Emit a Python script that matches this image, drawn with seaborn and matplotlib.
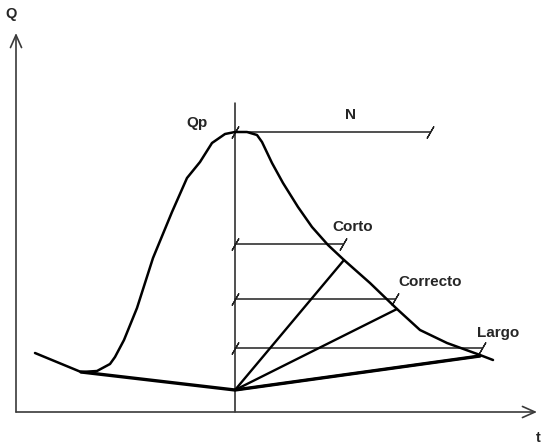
import matplotlib
matplotlib.use('Agg')
import matplotlib.pyplot as plt
import seaborn as sns
import pandas as pd

# hydrograph (t, Q in pixel-like units, origin at the axes corner)
curve_t = [19, 65, 81, 94, 99, 108, 121, 137, 156, 171, 184, 196, 209, 219, 231, 241,
           246, 256, 267, 282, 296, 312, 328, 354, 381, 404, 431, 464, 477]
curve_q = [59, 40, 41, 48, 55, 72, 104, 154, 200, 234, 250, 269, 278, 280, 280, 277,
           270, 249, 229, 205, 185, 167, 152, 129, 103, 82, 69, 57, 52]

# base flow separation
base_t = [65, 219, 464]
base_q = [40, 22, 56]

# peak time and recession durations
t_peak = 219
q_peak = 280
q_top_vertical = 309

labels = ['N', 'Corto', 'Correcto', 'Largo']
level_q = [280, 168, 113, 64]
level_end_t = [414, 327, 379, 466]

# end points of the separation rays
ray_names = ['Corto', 'Correcto', 'Largo']
ray_end_t = [328, 381, 464]
ray_end_q = [152, 103, 56]

label_t = [334, 337, 414, 482]
label_q = [297, 185, 130, 79]

sns.set_style('white')
plt.rcParams['font.family'] = ['Liberation Sans', 'DejaVu Sans']

fig = plt.figure(figsize=(5.42, 4.48), dpi=100)
ax = fig.add_axes([0, 0, 1, 1])
ax.set_xlim(-16, 526)
ax.set_ylim(-36, 412)
ax.axis('off')

# axes with open arrow heads
axis_col = '#3a3a3a'
ax.annotate('', xy=(0, 379), xytext=(0, 0),
            arrowprops=dict(arrowstyle='->,head_length=0.9,head_width=0.4', color=axis_col, lw=1.2, shrinkA=0, shrinkB=0))
ax.annotate('', xy=(521, 0), xytext=(0, 0),
            arrowprops=dict(arrowstyle='->,head_length=0.9,head_width=0.4', color=axis_col, lw=1.2, shrinkA=0, shrinkB=0))
ax.text(-5, 398, 'Q', fontsize=10.5, fontweight='bold', ha='center', va='center')
ax.text(522, -26, 't', fontsize=10.5, fontweight='bold', ha='center', va='center')

# vertical line at peak
ax.plot([t_peak, t_peak], [0, q_top_vertical], color='#202020', lw=1.1)

# horizontal duration lines with slash ticks
for name, q, te in zip(labels, level_q, level_end_t):
    ax.plot([t_peak, te], [q, q], color='#202020', lw=1.1)
    ax.plot([t_peak, te], [q, q], linestyle='none', marker=(2, 2, -30),
            markersize=10, markeredgewidth=0.9, color='#202020')

# rays from the base flow minimum
for te, qe in zip(ray_end_t, ray_end_q):
    ax.plot([base_t[1], te], [base_q[1], qe], color='black', lw=1.7)

df_curve = pd.DataFrame({'t': curve_t, 'Q': curve_q})
sns.lineplot(data=df_curve, x='t', y='Q', sort=False, color='black', lw=1.8, ax=ax)
df_base = pd.DataFrame({'t': base_t, 'Q': base_q})
sns.lineplot(data=df_base, x='t', y='Q', sort=False, color='black', lw=2.4, ax=ax)
ax.axis('off')
ax.set_xlim(-16, 526)
ax.set_ylim(-36, 412)

ax.text(181, 289, 'Qp', fontsize=11, fontweight='bold', ha='center', va='center')
for name, x, y in zip(labels, label_t, label_q):
    ax.text(x, y, name, fontsize=11, fontweight='bold', ha='center', va='center')

plt.savefig('out.png', dpi=100)
